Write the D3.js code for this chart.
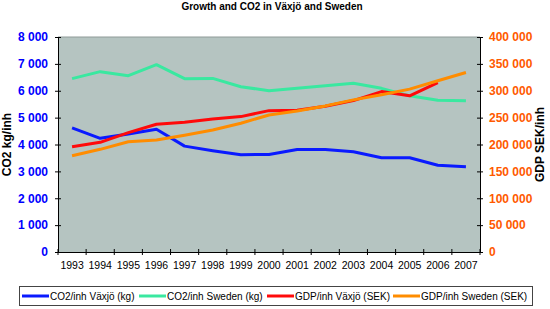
<!DOCTYPE html>
<html>
<head>
<meta charset="utf-8">
<style>
  body { margin: 0; background: #fff; }
  svg { font-family: "Liberation Sans", Arial, sans-serif; }
</style>
</head>
<body>
<svg width="550" height="309"></svg>
<script src="https://d3js.org/d3.v7.min.js"></script>
<script>

var years = ["1993","1994","1995","1996","1997","1998","1999","2000","2001","2002","2003","2004","2005","2006","2007"];

var co2Vaxjo  = [4620, 4230, 4390, 4570, 3940, 3770, 3620, 3630, 3815, 3815, 3730, 3505, 3505, 3230, 3170];
var co2Sweden = [6450, 6710, 6560, 6970, 6450, 6460, 6150, 6000, 6090, 6190, 6280, 6090, 5810, 5650, 5630];
var gdpVaxjo  = [195900, 204100, 222000, 237700, 241400, 247600, 251900, 263000, 263800, 271300, 281700, 298500, 290500, 315300, null];
var gdpSweden = [179100, 191000, 205200, 208400, 217200, 227100, 239600, 255000, 262500, 271800, 283000, 292400, 303000, 318500, 334000];

var leftTicks = [0, 1000, 2000, 3000, 4000, 5000, 6000, 7000, 8000];
var rightTicks = [0, 50000, 100000, 150000, 200000, 250000, 300000, 350000, 400000];

var svg = d3.select("svg"),
    margin = {top: 37, right: 70, bottom: 57, left: 58},
    width = 550 - margin.left - margin.right,
    height = 309 - margin.top - margin.bottom,
    g = svg.append("g").attr("transform", "translate(" + margin.left + "," + margin.top + ")");

var x = d3.scaleBand().domain(years).range([0, width]);
var yL = d3.scaleLinear().domain([0, 8000]).range([height, 0]);
var yR = d3.scaleLinear().domain([0, 400000]).range([height, 0]);

var fmt = function(d) { return d3.format(",")(d).replace(/,/g, " "); };

// plot area
g.append("rect")
    .attr("width", width)
    .attr("height", height)
    .attr("fill", "#b5c4c1");
g.append("line")
    .attr("x1", 0).attr("x2", width)
    .attr("y1", 0).attr("y2", 0)
    .attr("stroke", "#8f9a98")
    .attr("stroke-width", 1);

// title
svg.append("text")
    .attr("x", 272)
    .attr("y", 10)
    .attr("text-anchor", "middle")
    .attr("font-size", 10)
    .attr("font-weight", "bold")
    .text("Growth and CO2 in Växjö and Sweden");

// left axis
var axL = g.append("g")
    .call(d3.axisLeft(yL).tickValues(leftTicks).tickFormat(fmt).tickSize(5).tickSizeOuter(0));
axL.select(".domain").attr("stroke", "#000");
axL.selectAll(".tick line").attr("x1", -3).attr("x2", 3);
axL.selectAll("text")
    .attr("x", -10)
    .attr("fill", "#0000ff")
    .attr("font-size", 12)
    .attr("font-weight", "bold")
    .attr("font-family", "Liberation Sans, Arial, sans-serif");

// right axis
var axR = g.append("g")
    .attr("transform", "translate(" + width + ",0)")
    .call(d3.axisRight(yR).tickValues(rightTicks).tickFormat(fmt).tickSize(5).tickSizeOuter(0));
axR.selectAll(".tick line").attr("x1", -3).attr("x2", 3);
axR.selectAll("text")
    .attr("x", 9)
    .attr("fill", "#ff5a00")
    .attr("font-size", 12)
    .attr("font-weight", "bold")
    .attr("font-family", "Liberation Sans, Arial, sans-serif");

// bottom axis: ticks on category boundaries
var axB = g.append("g")
    .attr("transform", "translate(0," + height + ")")
    .call(d3.axisBottom(x).tickSize(0).tickPadding(10));
axB.selectAll("text")
    .attr("font-size", 10.5)
    .attr("fill", "#000")
    .attr("font-family", "Liberation Sans, Arial, sans-serif");
g.append("g").selectAll("line")
    .data(years.concat(["end"]))
    .join("line")
    .attr("x1", function(d, i) { return i * x.bandwidth(); })
    .attr("x2", function(d, i) { return i * x.bandwidth(); })
    .attr("y1", height - 3)
    .attr("y2", height + 3)
    .attr("stroke", "#000");

// axis titles
svg.append("text")
    .attr("transform", "translate(11," + (margin.top + height / 2) + ") rotate(-90)")
    .attr("text-anchor", "middle")
    .attr("font-size", 12)
    .attr("font-weight", "bold")
    .text("CO2 kg/inh");
svg.append("text")
    .attr("transform", "translate(544," + (margin.top + height / 2) + ") rotate(-90)")
    .attr("text-anchor", "middle")
    .attr("font-size", 12)
    .attr("font-weight", "bold")
    .text("GDP SEK/inh");

// series
var series = [
  {name: "CO2/inh Växjö (kg)", values: co2Vaxjo, y: yL, color: "#0a1aff"},
  {name: "CO2/inh Sweden (kg)", values: co2Sweden, y: yL, color: "#3ae8a0"},
  {name: "GDP/inh Växjö (SEK)", values: gdpVaxjo, y: yR, color: "#ff0a0a"},
  {name: "GDP/inh Sweden (SEK)", values: gdpSweden, y: yR, color: "#ff8c00"}
];

series.forEach(function(s) {
  var line = d3.line()
      .defined(function(d) { return d != null; })
      .x(function(d, i) { return x(years[i]) + x.bandwidth() / 2; })
      .y(function(d) { return s.y(d); });
  g.append("path")
      .datum(s.values)
      .attr("fill", "none")
      .attr("stroke", s.color)
      .attr("stroke-width", 3)
      .attr("stroke-linejoin", "round")
      .attr("d", line);
});

// legend
var leg = svg.append("g");
leg.append("rect")
    .attr("x", 19.5).attr("y", 286.5)
    .attr("width", 513).attr("height", 19)
    .attr("fill", "#fff")
    .attr("stroke", "#444")
    .attr("stroke-width", 1);
var legX = [22, 139, 267, 393];
series.forEach(function(s, i) {
  leg.append("line")
      .attr("x1", legX[i]).attr("x2", legX[i] + 27)
      .attr("y1", 296).attr("y2", 296)
      .attr("stroke", s.color)
      .attr("stroke-width", 3);
  leg.append("text")
      .attr("x", legX[i] + 28)
      .attr("y", 300)
      .attr("font-size", 10)
      .text(s.name);
});

</script>
</body>
</html>
